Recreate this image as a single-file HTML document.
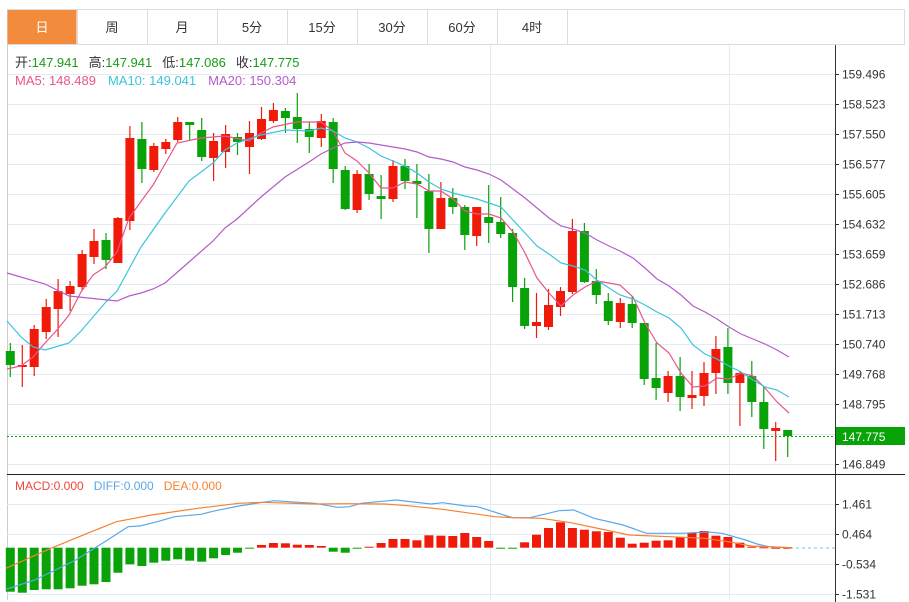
<!DOCTYPE html>
<html><head><meta charset="utf-8">
<style>
body{margin:0;background:#fff;width:909px;height:602px;overflow:hidden;font-family:"Liberation Sans","Noto Sans CJK SC",sans-serif;}
svg{position:absolute;left:0;top:0}
</style></head><body>
<svg id="s" width="909" height="602" xmlns="http://www.w3.org/2000/svg" font-family="Liberation Sans, Noto Sans CJK SC, sans-serif"></svg>
<script>
var S=document.getElementById('s'),h='';
function L(x1,y1,x2,y2,c,w,extra){h+='<line x1="'+x1+'" y1="'+y1+'" x2="'+x2+'" y2="'+y2+'" stroke="'+c+'" stroke-width="'+(w||1)+'" '+(extra||'')+'/>';}
function R(x,y,w,hh,c,extra){h+='<rect x="'+x+'" y="'+y+'" width="'+w+'" height="'+hh+'" fill="'+c+'" '+(extra||'')+'/>';}
function T(x,y,t,c,sz,anc){h+='<text x="'+x+'" y="'+y+'" fill="'+c+'" font-size="'+(sz||12)+'" '+(anc?'text-anchor="'+anc+'"':'')+'>'+t+'</text>';}
function P(pts,c,w){h+='<polyline fill="none" stroke="'+c+'" stroke-width="'+(w||1.2)+'" points="'+pts.map(function(p){return p[0]+','+p[1]}).join(' ')+'"/>';}
// tabs
R(7.5,9.5,897,35,'#fff','stroke="#ddd"');
var tabs=['日','周','月','5分','15分','30分','60分','4时'];
for(var i=0;i<8;i++){var x=7+i*70;
 if(i==0)R(x+0.5,10,69,34,'#f28c3c');
 else L(x+0.5,10,x+0.5,44,'#ddd');
 T(x+35,32,tabs[i],i==0?'#fff':'#333',13,'middle');}
L(x+70.5,10,x+70.5,44,'#ddd');
// header
h+='<text y="67" font-size="13"><tspan x="15" fill="#333">开:</tspan><tspan fill="#1a9c1a">147.941</tspan><tspan dx="10" fill="#333">高:</tspan><tspan fill="#1a9c1a">147.941</tspan><tspan dx="10" fill="#333">低:</tspan><tspan fill="#1a9c1a">147.086</tspan><tspan dx="10" fill="#333">收:</tspan><tspan fill="#1a9c1a">147.775</tspan></text>';
h+='<text y="85" font-size="13"><tspan x="15" fill="#e8558a">MA5: 148.489</tspan><tspan dx="12" fill="#3cc4dc">MA10: 149.041</tspan><tspan dx="12" fill="#b45cc8">MA20: 150.304</tspan></text>';
// grid
var labs=['159.496','158.523','157.550','156.577','155.605','154.632','153.659','152.686','151.713','150.740','149.768','148.795','147.775','146.849'];
for(var k=0;k<14;k++){var y=74+30*k;if(k<13)L(7,y+0.5,835,y+0.5,'#e3ecf2');}
L(7,464.5,835,464.5,'#e3ecf2');
L(490.5,45,490.5,600,'#e3ecf2');L(729.5,45,729.5,600,'#e3ecf2');
L(7.5,45,7.5,600,'#ccc');
L(835.5,45,835.5,602,'#333');
[74,104,134,164,194,224,254,284,314,344,374,404,464].forEach(function(y,j){L(835,y+0.5,839,y+0.5,'#333');});
var lb=[['159.496',74],['158.523',104],['157.550',134],['156.577',164],['155.605',194],['154.632',224],['153.659',254],['152.686',284],['151.713',314],['150.740',344],['149.768',374],['148.795',404],['146.849',464]];
lb.forEach(function(a){T(842,a[1]+4.5,a[0],'#333',12);});
// candles
var C=[[1,351,365,343,377],[0,365,367,345,387],[0,329,367,325,376],[0,307,332,299,339],[0,291,309,279,337],[0,286,294,281,311],[0,254,287,250,290],[0,241,257,229,264],[1,240,260,233,269],[0,218,263,217,263],[0,138,221,126,230],[1,139,169,122,183],[0,146,170,143,172],[0,142,149,139,154],[0,122,140,117,142],[1,122,125,122,140],[1,130,157,118,161],[0,141,158,133,181],[0,134,152,125,168],[1,137,142,133,155],[0,133,147,121,174],[0,119,139,107,140],[0,110,121,103,123],[1,111,118,108,133],[1,117,129,93,143],[1,129,137,122,153],[0,121,138,114,147],[1,122,169,118,183],[1,170,209,166,210],[0,174,210,170,213],[1,174,194,164,200],[1,196,199,175,219],[0,166,199,160,202],[1,166,181,159,189],[1,181,184,164,218],[1,191,229,174,253],[0,198,229,182,229],[1,198,207,188,214],[1,207,235,205,250],[0,207,236,207,246],[1,217,223,185,243],[1,222,234,197,238],[1,233,287,229,302],[1,288,326,278,329],[0,322,326,293,338],[0,305,327,289,330],[0,291,307,287,316],[0,231,292,219,294],[1,231,282,223,283],[1,281,295,269,304],[1,301,321,293,325],[0,303,322,298,328],[1,304,323,296,328],[1,323,379,323,385],[1,378,388,343,400],[0,376,393,371,402],[1,376,397,357,411],[0,395,398,371,409],[0,373,396,362,406],[0,349,373,336,394],[1,347,383,328,394],[0,373,383,371,426],[1,376,402,361,417],[1,402,429,387,449],[0,428,431,422,461],[1,430,436,430,457]];
C.forEach(function(c,i){var x=10.3+11.96*i,col=c[0]?'#09a209':'#f01a0a';
 L(x.toFixed(1),c[3],x.toFixed(1),c[4],col,1.2);
 R((x-4.5).toFixed(1),c[1],9,Math.max(2,c[2]-c[1]),col);});
// MAs
P([[7,369],[21,366],[33,357],[45,343],[57,330],[69,315],[81,292],[93,275],[105,267],[117,252],[129,218],[153,185],[177,143],[201,138],[225,136],[249,141],[261,133],[273,127],[297,122],[321,122],[333,131],[345,153],[357,161],[369,173],[381,188],[393,188],[405,182],[417,184],[429,191],[441,191],[453,199],[465,211],[477,214],[489,214],[501,218],[513,232],[525,253],[537,278],[549,293],[561,306],[573,295],[585,287],[597,281],[609,283],[620,285],[633,297],[645,323],[657,343],[669,353],[681,373],[693,387],[705,386],[717,378],[729,379],[741,373],[753,376],[765,388],[777,402],[789,413]],'#e8558a');
P([[7,321],[21,337],[33,347],[45,350],[69,343],[81,331],[105,303],[117,291],[141,247],[165,213],[189,181],[213,163],[225,150],[237,143],[261,135],[285,130],[309,131],[321,128],[333,131],[345,138],[357,142],[369,148],[381,156],[393,161],[405,166],[417,173],[429,182],[441,189],[453,193],[465,196],[477,199],[489,203],[501,207],[513,220],[525,233],[537,246],[549,254],[561,263],[573,266],[585,270],[597,280],[609,288],[620,295],[633,299],[645,305],[657,312],[669,318],[681,328],[693,345],[705,354],[717,359],[729,366],[741,372],[753,380],[765,387],[777,390],[789,397]],'#3cc4dc');
P([[7,273],[45,284],[69,296],[117,301],[129,296],[141,293],[153,289],[165,283],[189,262],[213,241],[225,228],[237,219],[261,197],[273,187],[285,177],[309,162],[321,154],[333,148],[345,143],[357,142],[369,143],[381,145],[393,147],[405,149],[417,152],[429,157],[441,159],[453,162],[465,167],[477,170],[489,174],[501,180],[513,189],[525,198],[537,208],[549,218],[561,226],[573,229],[585,233],[597,240],[609,246],[620,251],[633,258],[645,268],[657,279],[669,286],[681,295],[693,306],[705,312],[717,319],[729,327],[741,334],[753,339],[765,344],[777,350],[789,357]],'#b45cc8');
// current price
L(7,436.5,835,436.5,'#09a209',1,'stroke-dasharray="2,2"');
R(836,427,69,18,'#09a209');
T(842,441,'147.775','#fff',12);
// MACD panel
L(7,474.5,905,474.5,'#222');
[504,534,564,594].forEach(function(y){L(7,y+0.5,835,y+0.5,'#e3ecf2');L(835,y+0.5,839,y+0.5,'#333');});
[['1.461',504],['0.464',534],['-0.534',564],['-1.531',594]].forEach(function(a){T(842,a[1]+4.5,a[0],'#333',12);});
h+='<text y="490" font-size="12"><tspan x="15" fill="#f0463c">MACD:0.000</tspan><tspan dx="10" fill="#5ba7e8">DIFF:0.000</tspan><tspan dx="10" fill="#f58230">DEA:0.000</tspan></text>';
var B=[365,368,360,358,358,355,347,343,336,308,283,288,278,272,268,272,275,265,255,248,236,225,219,220,224,225,228,245,248,234,230,219,207,207,211,196,197,198,189,201,213,236,236,217,194,174,157,174,179,184,186,203,221,218,212,211,201,188,183,197,201,218,230,232,233,233];
var z=547.7;
B.forEach(function(b,i){var x=10.3+11.96*i,y=470+b/3,col=(y>z)?'#09a209':'#f01a0a';
 if(i>=21&&i<=26)col='#f01a0a';if(i>=30&&i<=40)col='#f01a0a';if(i>=43&&i<=63)col='#f01a0a';
 var t=Math.min(y,z),hh=Math.max(1,Math.abs(y-z));R((x-4.5).toFixed(1),t.toFixed(1),9,hh.toFixed(1),col);});
L(790,548,835,548,'#a8d4ee',1.5,'stroke-dasharray="3,3"');
function cv(a){return a.map(function(p){return [(p[0]/1.717).toFixed(1),(470+p[1]/3).toFixed(1)]});}
P(cv([[10,358],[60,330],[130,270],[180,215],[220,170],[240,168],[270,155],[300,140],[345,133],[370,122],[410,108],[470,92],[540,100],[580,112],[600,110],[620,100],[680,90],[740,102],[760,98],[800,108],[820,110],[880,143],[910,143],[960,122],[985,120],[1020,145],[1070,165],[1110,190],[1170,190],[1215,186],[1240,190],[1280,210],[1300,222],[1320,230],[1360,233]]),'#5ba7e8');
P(cv([[10,295],[90,233],[150,190],[200,155],[260,135],[340,115],[410,100],[450,97],[540,102],[600,101],[660,102],[700,107],[760,118],[850,140],[880,143],[930,145],[980,158],[1040,180],[1080,195],[1150,200],[1210,205],[1250,215],[1290,228],[1360,233]]),'#f58230');
S.innerHTML=h;
</script>
</body></html>
